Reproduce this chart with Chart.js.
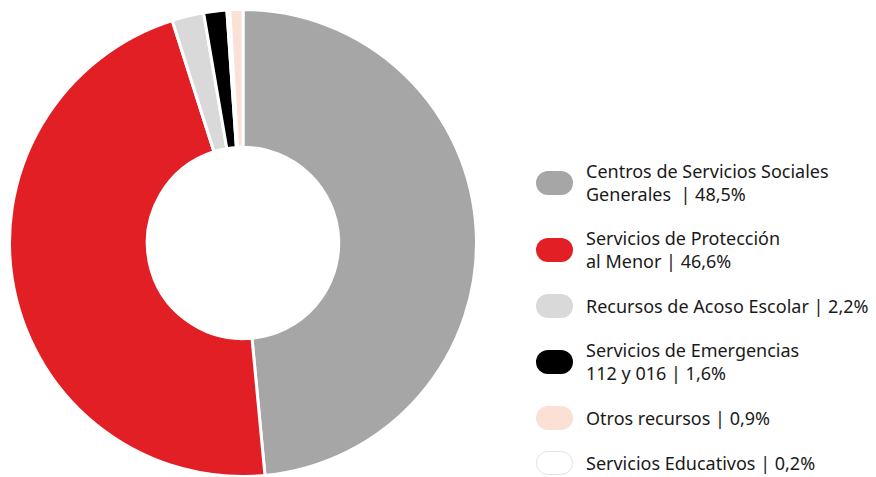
<!DOCTYPE html>
<html>
<head>
<meta charset="utf-8">
<script src="https://cdn.jsdelivr.net/npm/chart.js@4/dist/chart.umd.min.js"></script>
<style>
    body { margin: 0; background: #fff; width: 876px; height: 477px; overflow: hidden; position: relative; }
    #chartBox { position: absolute; left: 8px; top: 8px; width: 470px; height: 470px; }
    #legend { position: absolute; left: 536px; top: 160px; display: flex; flex-direction: column; gap: 21px;
              font-family: "Noto Sans", sans-serif; font-size: 18px; line-height: 23px; color: #1a1a1a; }
    .item { display: flex; align-items: center; }
    .pill { width: 37px; height: 24px; border-radius: 12px; margin-right: 13px; box-sizing: border-box; flex: none; }
    .txt { white-space: pre; }
</style>
</head>
<body>
<div id="chartBox"><canvas id="donut"></canvas></div>
<div id="legend"></div>
<script>
// legend order
const labels = [
    ["Centros de Servicios Sociales", "Generales  | 48,5%"],
    ["Servicios de Protección", "al Menor | 46,6%"],
    ["Recursos de Acoso Escolar | 2,2%"],
    ["Servicios de Emergencias", "112 y 016 | 1,6%"],
    ["Otros recursos | 0,9%"],
    ["Servicios Educativos | 0,2%"]
]
const values = [48.5, 46.6, 2.2, 1.6, 0.9, 0.2]
const colors = ["#a6a6a6", "#e11f24", "#d9d9d9", "#000000", "#fbe1d5", "#ffffff"]
// order the slices are drawn around the ring (white sits between black and peach)
const drawOrder = [0, 1, 2, 3, 5, 4]

new Chart(document.getElementById("donut"), {
    type: "doughnut",
    data: {
        labels: drawOrder.map(i => labels[i].join(" ")),
        datasets: [{
            data: drawOrder.map(i => values[i]),
            backgroundColor: drawOrder.map(i => colors[i]),
            borderColor: "#ffffff",
            borderWidth: 3
        }]
    },
    options: {
        responsive: true,
        maintainAspectRatio: false,
        animation: false,
        cutout: "41%",
        plugins: {
            legend: { display: false },
            tooltip: { enabled: false }
        }
    }
});

// html legend
let legend = document.getElementById("legend")
labels.forEach((lines, i) => {
    let item = document.createElement("div")
    item.className = "item"
    let pill = document.createElement("div")
    pill.className = "pill"
    pill.style.background = colors[i]
    if (colors[i] == "#ffffff") pill.style.border = "1px solid #e3e3e3"
    let txt = document.createElement("div")
    txt.className = "txt"
    txt.textContent = lines.join("\n")
    item.appendChild(pill)
    item.appendChild(txt)
    legend.appendChild(item)
})
</script>
</body>
</html>
